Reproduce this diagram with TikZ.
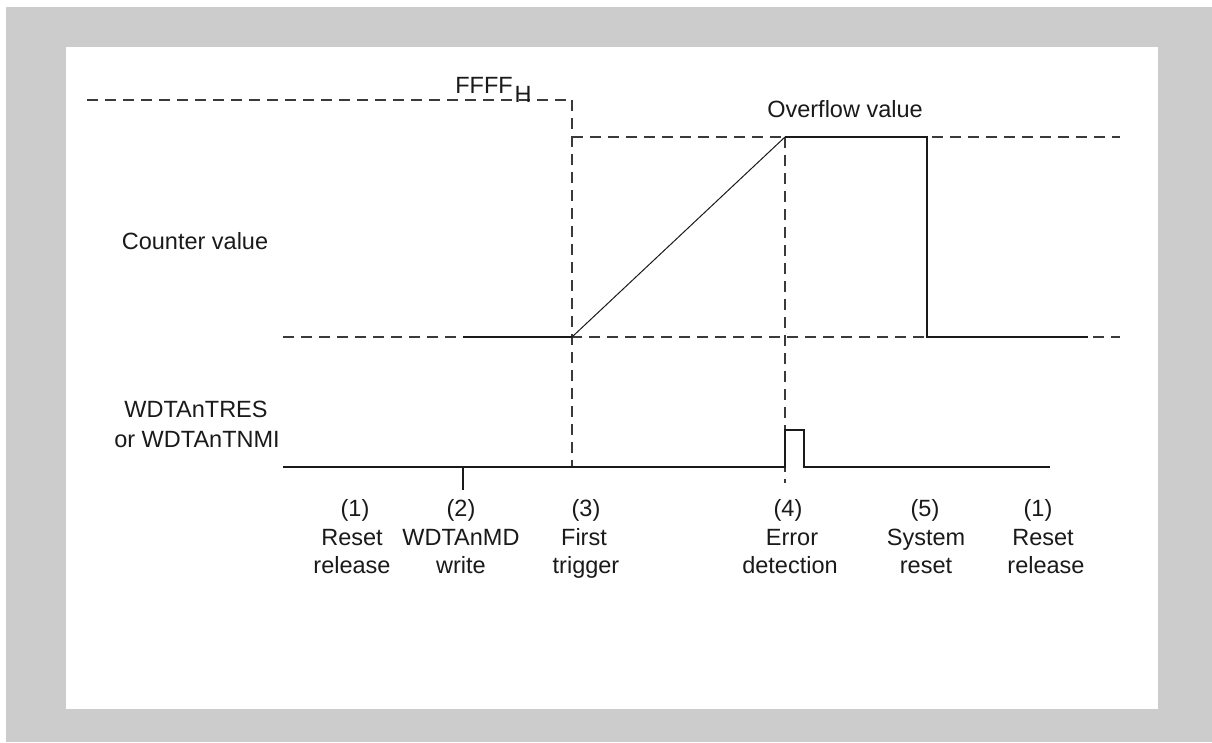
\documentclass[tikz,border=0pt]{standalone}
\usepackage{fontspec}
\setmainfont{Liberation Sans}
\definecolor{frame}{HTML}{CCCCCC}
\definecolor{ink}{HTML}{1A1A1A}
\definecolor{dashink}{HTML}{3A3A3A}
\begin{document}
\begin{tikzpicture}[x=1pt,y=-1pt,
  lbl/.style={inner sep=0pt,anchor=base,text=ink,font=\fontsize{23.5}{28.5}\selectfont},
  guide/.style={draw=dashink,line width=1.3pt,dash pattern=on 11pt off 7pt},
  sig/.style={draw=ink,line width=2pt},
  ramp/.style={draw=ink,line width=1pt}]
\useasboundingbox (0,0) rectangle (1212,742);
\fill[white] (0,0) rectangle (1212,742);
\fill[frame] (6,7) rectangle (1212,742);
\fill[white] (66,47) rectangle (1158,709);

% key coordinates
\coordinate (ffL) at (87,100);
\coordinate (ffR) at (572,100);
\coordinate (ovL) at (572,137);
\coordinate (ovR) at (1120,137);
\coordinate (bsL) at (283,337);
\coordinate (bsR) at (1120,337);
\coordinate (trigTop) at (572,100);
\coordinate (trigBot) at (572,467);
\coordinate (errTop) at (785,137);
\coordinate (errBot) at (785,483);

% dashed guides
\draw[guide] (ffL) -- (ffR);
\draw[guide] (ovL) -- (ovR);
\draw[guide] (bsL) -- (bsR);
\draw[guide] (trigTop) -- (trigBot);
\draw[guide] (errTop) -- (errBot);

% counter value waveform
\coordinate (c0) at (463,337);
\coordinate (c1) at (572,337);
\coordinate (c2) at (785,137);
\coordinate (c3) at (927,137);
\coordinate (c4) at (927,337);
\coordinate (c5) at (1088,337);
\draw[sig] (c0) -- (c1);
\draw[ramp] (c1) -- (c2);
\draw[sig,line join=miter] (c2) -- (c3) -- (c4) -- (c5);

% WDTAnTRES / WDTAnTNMI signal
\coordinate (s0) at (283,467);
\coordinate (s1) at (785,467);
\coordinate (s2) at (785,430);
\coordinate (s3) at (804,430);
\coordinate (s4) at (804,467);
\coordinate (s5) at (1050,467);
\draw[sig,line join=miter] (s0) -- (s1) -- (s2) -- (s3) -- (s4) -- (s5);
\coordinate (tk0) at (463,467);
\coordinate (tk1) at (463,490);
\draw[sig] (tk0) -- (tk1);

% texts
\node[lbl] (ffff) at (484,93) {FFFF};
\node[lbl,font=\fontsize{23.5}{28}\selectfont] (ffffh) at (523,102) {H};
\node[lbl] (ovf) at (845,117) {Overflow value};
\node[lbl] (cnt) at (195,249) {Counter value};
\node[lbl] (sgA) at (196,417) {WDTAnTRES};
\node[lbl] (sgB) at (197,447) {or WDTAnTNMI};

\node[lbl] (n1a) at (355,516) {(1)};
\node[lbl] (n1b) at (352,545) {Reset};
\node[lbl] (n1c) at (352,573) {release};

\node[lbl] (n2a) at (461,516) {(2)};
\node[lbl] (n2b) at (461,545) {WDTAnMD};
\node[lbl] (n2c) at (461,573) {write};

\node[lbl] (n3a) at (586,516) {(3)};
\node[lbl] (n3b) at (584,545) {First};
\node[lbl] (n3c) at (586,573) {trigger};

\node[lbl] (n4a) at (788,516) {(4)};
\node[lbl] (n4b) at (792,545) {Error};
\node[lbl] (n4c) at (790,573) {detection};

\node[lbl] (n5a) at (925,516) {(5)};
\node[lbl] (n5b) at (926,545) {System};
\node[lbl] (n5c) at (926,573) {reset};

\node[lbl] (n6a) at (1038,516) {(1)};
\node[lbl] (n6b) at (1043,545) {Reset};
\node[lbl] (n6c) at (1046,573) {release};
\end{tikzpicture}
\end{document}
